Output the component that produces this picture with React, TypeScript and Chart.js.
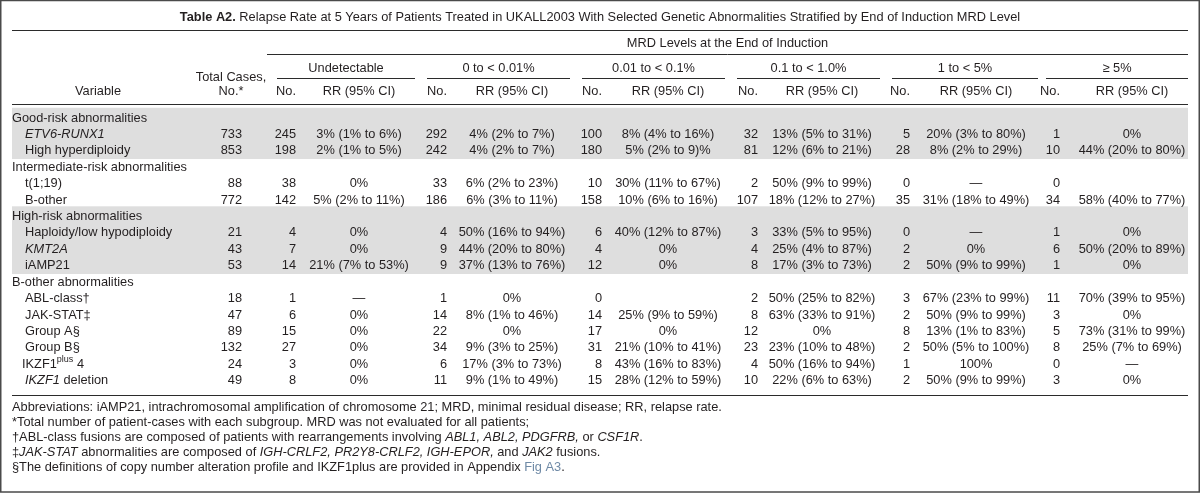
import React, { useEffect, useRef } from 'react';
import { Chart, registerables } from 'chart.js';

Chart.register(...registerables);

type Seg = { t: string; i?: boolean; b?: boolean; sup?: boolean; c?: string };

// ---------- DATA ----------
const titleSegs: Seg[] = [
  { t: 'Table A2.', b: true },
  { t: ' Relapse Rate at 5 Years of Patients Treated in UKALL2003 With Selected Genetic Abnormalities Stratified by End of Induction MRD Level' },
];
const spanHeader = 'MRD Levels at the End of Induction';
const mrdGroups = ['Undetectable', '0 to < 0.01%', '0.01 to < 0.1%', '0.1 to < 1.0%', '1 to < 5%', '≥ 5%'];
const subHeaders = ['No.', 'RR (95% CI)'];

const rowLabels: Seg[][] = [
  [{ t: 'Good-risk abnormalities' }],
  [{ t: 'ETV6-RUNX1', i: true }],
  [{ t: 'High hyperdiploidy' }],
  [{ t: 'Intermediate-risk abnormalities' }],
  [{ t: 't(1;19)' }],
  [{ t: 'B-other' }],
  [{ t: 'High-risk abnormalities' }],
  [{ t: 'Haploidy/low hypodiploidy' }],
  [{ t: 'KMT2A', i: true }],
  [{ t: 'iAMP21' }],
  [{ t: 'B-other abnormalities' }],
  [{ t: 'ABL-class†' }],
  [{ t: 'JAK-STAT‡' }],
  [{ t: 'Group A§' }],
  [{ t: 'Group B§' }],
  [{ t: 'IKZF1' }, { t: 'plus', sup: true }, { t: ' 4' }],
  [{ t: 'IKZF1', i: true }, { t: ' deletion' }],
];
const rowLevel = [0, 1, 1, 0, 1, 1, 0, 1, 1, 1, 0, 1, 1, 1, 1, 2, 1];

const totalCases = ['', '733', '853', '', '88', '772', '', '21', '43', '53', '', '18', '47', '89', '132', '24', '49'];
const undetNo = ['', '245', '198', '', '38', '142', '', '4', '7', '14', '', '1', '6', '15', '27', '3', '8'];
const undetRR = ['', '3% (1% to 6%)', '2% (1% to 5%)', '', '0%', '5% (2% to 11%)', '', '0%', '0%', '21% (7% to 53%)', '', '—', '0%', '0%', '0%', '0%', '0%'];
const lt001No = ['', '292', '242', '', '33', '186', '', '4', '9', '9', '', '1', '14', '22', '34', '6', '11'];
const lt001RR = ['', '4% (2% to 7%)', '4% (2% to 7%)', '', '6% (2% to 23%)', '6% (3% to 11%)', '', '50% (16% to 94%)', '44% (20% to 80%)', '37% (13% to 76%)', '', '0%', '8% (1% to 46%)', '0%', '9% (3% to 25%)', '17% (3% to 73%)', '9% (1% to 49%)'];
const lt01No = ['', '100', '180', '', '10', '158', '', '6', '4', '12', '', '0', '14', '17', '31', '8', '15'];
const lt01RR = ['', '8% (4% to 16%)', '5% (2% to 9)%', '', '30% (11% to 67%)', '10% (6% to 16%)', '', '40% (12% to 87%)', '0%', '0%', '', '', '25% (9% to 59%)', '0%', '21% (10% to 41%)', '43% (16% to 83%)', '28% (12% to 59%)'];
const lt1No = ['', '32', '81', '', '2', '107', '', '3', '4', '8', '', '2', '8', '12', '23', '4', '10'];
const lt1RR = ['', '13% (5% to 31%)', '12% (6% to 21%)', '', '50% (9% to 99%)', '18% (12% to 27%)', '', '33% (5% to 95%)', '25% (4% to 87%)', '17% (3% to 73%)', '', '50% (25% to 82%)', '63% (33% to 91%)', '0%', '23% (10% to 48%)', '50% (16% to 94%)', '22% (6% to 63%)'];
const lt5No = ['', '5', '28', '', '0', '35', '', '0', '2', '2', '', '3', '2', '8', '2', '1', '2'];
const lt5RR = ['', '20% (3% to 80%)', '8% (2% to 29%)', '', '—', '31% (18% to 49%)', '', '—', '0%', '50% (9% to 99%)', '', '67% (23% to 99%)', '50% (9% to 99%)', '13% (1% to 83%)', '50% (5% to 100%)', '100%', '50% (9% to 99%)'];
const ge5No = ['', '1', '10', '', '0', '34', '', '1', '6', '1', '', '11', '3', '5', '8', '0', '3'];
const ge5RR = ['', '0%', '44% (20% to 80%)', '', '', '58% (40% to 77%)', '', '0%', '50% (20% to 89%)', '0%', '', '70% (39% to 95%)', '0%', '73% (31% to 99%)', '25% (7% to 69%)', '—', '0%'];

const footnotes: Seg[][] = [
  [{ t: 'Abbreviations: iAMP21, intrachromosomal amplification of chromosome 21; MRD, minimal residual disease; RR, relapse rate.' }],
  [{ t: '*Total number of patient-cases with each subgroup. MRD was not evaluated for all patients;' }],
  [
    { t: '†ABL-class fusions are composed of patients with rearrangements involving ' },
    { t: 'ABL1, ABL2, PDGFRB,', i: true },
    { t: ' or ' },
    { t: 'CSF1R', i: true },
    { t: '.' },
  ],
  [
    { t: '‡' },
    { t: 'JAK-STAT', i: true },
    { t: ' abnormalities are composed of ' },
    { t: 'IGH-CRLF2, PR2Y8-CRLF2, IGH-EPOR,', i: true },
    { t: ' and ' },
    { t: 'JAK2', i: true },
    { t: ' fusions.' },
  ],
  [
    { t: '§The definitions of copy number alteration profile and IKZF1plus are provided in Appendix ' },
    { t: 'Fig A3', c: '#6f8aa6' },
    { t: '.' },
  ],
];

const shadedGroups = [
  [0, 2],
  [6, 9],
];

// ---------- LAYOUT ----------
const W = 1200;
const H = 493;
const FONT = '"Liberation Sans", Arial, Helvetica, sans-serif';
const FS = 12.8;
const WS = 0; // extra word spacing
const TEXT = '#231f20';
const LINE = '#2b2b2b';
const SHADE = '#dedede';

const L = {
  left: 12,
  right: 1188,
  titleY: 17,
  titleLine: 30.5,
  spanY: 43,
  spanLine: 54.5,
  spanX0: 267,
  groupY: 68,
  groupLine: 78.5,
  subY: 91,
  headLine: 104.5,
  row0: 118,
  pitch: 16.42,
  bottomLine: 395.5,
  foot0: 407,
  footPitch: 15,
  indent: [12, 25, 22],
  varX: 98,
  totX: 242,
  totHeadX: 231,
  groupSpans: [
    [277, 415],
    [427, 570],
    [582, 725],
    [737, 880],
    [892, 1038],
    [1046, 1188],
  ],
  noX: [296, 447, 602, 758, 910, 1060],
  rrX: [359, 512, 668, 822, 976, 1132],
};

const noCols = [undetNo, lt001No, lt01No, lt1No, lt5No, ge5No];
const rrCols = [undetRR, lt001RR, lt01RR, lt1RR, lt5RR, ge5RR];

function fontFor(s: Seg, size: number) {
  const sz = s.sup ? Math.round(size * 0.7) : size;
  return `${s.i ? 'italic ' : ''}${s.b ? 'bold ' : ''}${sz}px ${FONT}`;
}

function tokens(t: string): string[] {
  return t.split(/( )/).filter((x) => x.length > 0);
}

function segWidth(ctx: CanvasRenderingContext2D, s: Seg, size: number, ws: number) {
  ctx.font = fontFor(s, size);
  let w = 0;
  tokens(s.t).forEach((tk) => {
    w += ctx.measureText(tk).width + (tk === ' ' ? ws : 0);
  });
  return w;
}

function drawSegs(
  ctx: CanvasRenderingContext2D,
  segs: Seg[],
  x: number,
  y: number,
  align: 'left' | 'center' | 'right',
  size = FS,
  ws = WS
) {
  const widths = segs.map((s) => segWidth(ctx, s, size, ws));
  const total = widths.reduce((a, b) => a + b, 0);
  let cx = align === 'left' ? x : align === 'center' ? x - total / 2 : x - total;
  ctx.textAlign = 'left';
  ctx.textBaseline = 'middle';
  segs.forEach((s) => {
    ctx.font = fontFor(s, size);
    ctx.fillStyle = s.c || TEXT;
    tokens(s.t).forEach((tk) => {
      if (tk !== ' ') ctx.fillText(tk, cx, s.sup ? y - size * 0.35 : y);
      cx += ctx.measureText(tk).width + (tk === ' ' ? ws : 0);
    });
  });
}

const tablePlugin = {
  id: 'tablePlugin',
  afterDraw(chart: any) {
    const ctx: CanvasRenderingContext2D = chart.ctx;
    const xs = chart.scales.x;
    const ys = chart.scales.y;
    const px = (v: number) => xs.getPixelForValue(v);
    const py = (v: number) => ys.getPixelForValue(v);
    const rowY = (i: number) => L.row0 + i * L.pitch;

    ctx.save();
    ctx.fillStyle = '#ffffff';
    ctx.fillRect(0, 0, chart.width, chart.height);

    ctx.fillStyle = SHADE;
    shadedGroups.forEach(([a, b]) => {
      const top = rowY(a) - L.pitch / 2 - 2;
      const bot = rowY(b) + L.pitch / 2;
      ctx.fillRect(px(L.left), py(top), px(L.right) - px(L.left), py(bot) - py(top));
    });

    const hline = (y: number, x0: number, x1: number, lw = 1) => {
      ctx.strokeStyle = LINE;
      ctx.lineWidth = lw;
      ctx.beginPath();
      ctx.moveTo(px(x0), py(y));
      ctx.lineTo(px(x1), py(y));
      ctx.stroke();
    };
    hline(L.titleLine, L.left, L.right, 1);
    hline(L.spanLine, L.spanX0, L.right, 1);
    L.groupSpans.forEach(([a, b]) => hline(L.groupLine, a, b, 1));
    hline(L.headLine, L.left, L.right, 1);
    hline(L.bottomLine, L.left, L.right, 1);

    drawSegs(ctx, titleSegs, px(600), py(L.titleY), 'center');
    drawSegs(ctx, [{ t: spanHeader }], px((L.spanX0 + L.right) / 2), py(L.spanY), 'center');
    mrdGroups.forEach((g, k) => {
      const [a, b] = L.groupSpans[k];
      drawSegs(ctx, [{ t: g }], px((a + b) / 2), py(L.groupY), 'center');
      drawSegs(ctx, [{ t: subHeaders[0] }], px(L.noX[k]), py(L.subY), 'right');
      drawSegs(ctx, [{ t: subHeaders[1] }], px(L.rrX[k]), py(L.subY), 'center');
    });
    drawSegs(ctx, [{ t: 'Variable' }], px(L.varX), py(L.subY), 'center');
    drawSegs(ctx, [{ t: 'Total Cases,' }], px(L.totHeadX), py(L.subY - 14), 'center');
    drawSegs(ctx, [{ t: 'No.*' }], px(L.totHeadX), py(L.subY), 'center');

    rowLabels.forEach((segs, i) => {
      const y = py(rowY(i));
      drawSegs(ctx, segs, px(L.indent[rowLevel[i]]), y, 'left');
      if (totalCases[i]) drawSegs(ctx, [{ t: totalCases[i] }], px(L.totX), y, 'right');
      noCols.forEach((col, k) => {
        if (col[i]) drawSegs(ctx, [{ t: col[i] }], px(L.noX[k]), y, 'right');
      });
      rrCols.forEach((col, k) => {
        if (col[i]) drawSegs(ctx, [{ t: col[i] }], px(L.rrX[k]), y, 'center');
      });
    });

    footnotes.forEach((segs, j) => {
      drawSegs(ctx, segs, px(L.left), py(L.foot0 + j * L.footPitch), 'left');
    });

    ctx.strokeStyle = '#4a4a4a';
    ctx.lineWidth = 1.5;
    ctx.strokeRect(0.75, 0.5, chart.width - 1.5, chart.height - 1.5);
    ctx.restore();
  },
};

export default function App() {
  const ref = useRef<HTMLCanvasElement | null>(null);

  useEffect(() => {
    document.body.style.margin = '0';
    const canvas = ref.current;
    if (!canvas) return;
    const chart = new Chart(canvas, {
      type: 'scatter',
      data: { datasets: [] },
      options: {
        animation: false,
        responsive: false,
        devicePixelRatio: 1,
        layout: { padding: 0 },
        plugins: { legend: { display: false }, tooltip: { enabled: false }, title: { display: false } },
        scales: {
          x: { type: 'linear', min: 0, max: W, display: false },
          y: { type: 'linear', min: 0, max: H, reverse: true, display: false },
        },
      },
      plugins: [tablePlugin],
    });
    return () => chart.destroy();
  }, []);

  return (
    <div style={{ width: W, height: H, background: '#fff' }}>
      <canvas ref={ref} width={W} height={H} style={{ display: 'block', width: W, height: H }} />
    </div>
  );
}
